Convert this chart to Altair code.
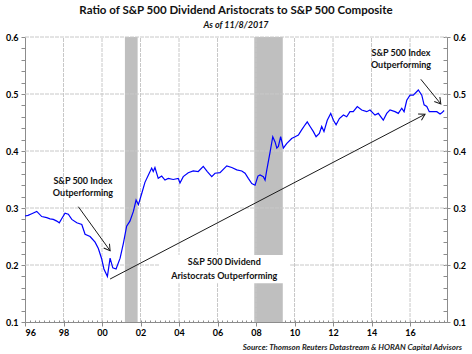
import altair as alt
import pandas as pd

# ---------------- data ----------------
years = [1996.00, 1996.16, 1996.35, 1996.61, 1996.87, 1997.13, 1997.30, 1997.47, 1997.65, 1997.78,
         1997.92, 1998.08, 1998.25, 1998.43, 1998.69, 1998.95, 1999.12, 1999.38, 1999.64, 1999.81,
         1999.98, 2000.10, 2000.28, 2000.42, 2000.56, 2000.73, 2000.94, 2001.11, 2001.28, 2001.45,
         2001.63, 2001.77, 2001.89, 2002.06, 2002.23, 2002.41, 2002.58, 2002.66, 2002.75, 2002.92,
         2003.10, 2003.27, 2003.44, 2003.70, 2003.96, 2004.05, 2004.22, 2004.48, 2004.74, 2005.00,
         2005.26, 2005.47, 2005.70, 2005.87, 2006.13, 2006.48, 2006.74, 2007.00, 2007.26, 2007.43,
         2007.60, 2007.78, 2007.95, 2008.10, 2008.21, 2008.38, 2008.47, 2008.56, 2008.73, 2008.87,
         2008.99, 2009.08, 2009.16, 2009.28, 2009.42, 2009.59, 2009.85, 2010.03, 2010.20, 2010.37,
         2010.55, 2010.66, 2010.81, 2010.98, 2011.12, 2011.29, 2011.41, 2011.53, 2011.70, 2011.88,
         2012.02, 2012.16, 2012.33, 2012.54, 2012.71, 2012.88, 2013.05, 2013.26, 2013.49, 2013.75,
         2013.92, 2014.18, 2014.35, 2014.61, 2014.79, 2014.96, 2015.22, 2015.39, 2015.57, 2015.69,
         2015.83, 2016.00, 2016.17, 2016.43, 2016.61, 2016.73, 2016.87, 2017.00, 2017.21, 2017.39,
         2017.56, 2017.65, 2017.77]

ratio = [0.286, 0.287, 0.290, 0.294, 0.285, 0.283, 0.281, 0.280, 0.277, 0.274,
         0.282, 0.291, 0.289, 0.280, 0.274, 0.271, 0.254, 0.250, 0.240, 0.229,
         0.211, 0.193, 0.180, 0.212, 0.195, 0.193, 0.212, 0.238, 0.268, 0.277,
         0.294, 0.314, 0.306, 0.325, 0.345, 0.358, 0.370, 0.364, 0.371, 0.352,
         0.356, 0.349, 0.352, 0.350, 0.352, 0.344, 0.355, 0.362, 0.365, 0.364,
         0.373, 0.364, 0.355, 0.361, 0.362, 0.374, 0.371, 0.367, 0.365, 0.361,
         0.352, 0.343, 0.340, 0.356, 0.358, 0.355, 0.349, 0.367, 0.398, 0.425,
         0.416, 0.405, 0.408, 0.425, 0.405, 0.413, 0.422, 0.425, 0.428, 0.437,
         0.446, 0.451, 0.443, 0.434, 0.425, 0.431, 0.443, 0.434, 0.454, 0.466,
         0.454, 0.446, 0.457, 0.463, 0.460, 0.469, 0.469, 0.478, 0.472, 0.469,
         0.472, 0.463, 0.466, 0.454, 0.466, 0.472, 0.469, 0.466, 0.475, 0.469,
         0.489, 0.498, 0.498, 0.507, 0.498, 0.481, 0.478, 0.469, 0.469, 0.469,
         0.465, 0.467, 0.471]

x_ticks = [1996, 1998, 2000, 2002, 2004, 2006, 2008, 2010, 2012, 2014, 2016]
x_grid = [1998, 2000, 2002, 2004, 2006, 2008, 2010, 2012, 2014, 2016]
x_minor = [1996 + q / 4 for q in range(0, 88)]
y_ticks = [0.1, 0.2, 0.3, 0.4, 0.5, 0.6]
y_grid = [0.2, 0.3, 0.4, 0.5, 0.6]
y_minor = [round(0.1 + i * 0.02, 2) for i in range(0, 26)]
x_range = [1996, 2017.92]
y_range = [0.1, 0.6]

rec_start = [2001.19, 2007.91]
rec_end = [2001.85, 2009.39]

# text box behind the lower annotation
box_x = [2003.0]
box_x2 = [2009.77]
box_y = [0.168]
box_y2 = [0.2175]

note_x = [1999.01, 1999.01, 2015.53, 2015.53, 2006.35, 2006.35]
note_y = [0.347, 0.326, 0.5725, 0.551, 0.2053, 0.1807]
note_text = ["S&P 500 Index", "Outperforming", "S&P 500 Index", "Outperforming",
             "S&P 500 Dividend", "Aristocrats Outperforming"]

arrow_x1 = [1998.77, 2000.42, 2016.56]
arrow_y1 = [0.3023, 0.1754, 0.5258]
arrow_x2 = [2000.42, 2016.78, 2017.60]
arrow_y2 = [0.2251, 0.4644, 0.4825]
arrow_angle = [144, 62, 141]

source_x = [2018.7]
source_y = [0.0549]
source_text = ["Source: Thomson Reuters Datastream & HORAN Capital Advisors"]

# ---------------- frames ----------------
line_df = pd.DataFrame({"year": years, "ratio": ratio})
rec_df = pd.DataFrame({"start": rec_start, "end": rec_end,
                       "lo": [y_range[0]] * len(rec_start), "hi": [y_range[1]] * len(rec_start)})
vgrid_df = pd.DataFrame({"x": x_grid, "lo": [y_range[0]] * len(x_grid),
                         "hi": [y_range[1]] * len(x_grid)})
hgrid_df = pd.DataFrame({"y": y_grid, "lo": [x_range[0]] * len(y_grid),
                         "hi": [x_range[1]] * len(y_grid)})
box_df = pd.DataFrame({"x": box_x, "x2": box_x2, "y": box_y, "y2": box_y2})
note_df = pd.DataFrame({"x": note_x, "y": note_y, "text": note_text})
arrow_df = pd.DataFrame({"x1": arrow_x1, "y1": arrow_y1, "x2": arrow_x2, "y2": arrow_y2,
                         "angle": arrow_angle})
source_df = pd.DataFrame({"x": source_x, "y": source_y, "text": source_text})

FONT = "Lato"
GRID = "#C8C8C8"
xs = alt.Scale(domain=x_range, nice=False, zero=False)
ys = alt.Scale(domain=y_range, nice=False, zero=False)

x_main_axis = alt.Axis(orient="bottom", values=x_ticks,
                       labelExpr="substring(toString(datum.value), 2, 4)",
                       grid=False, domain=True, domainColor="#8c8c8c", ticks=True, tickSize=4,
                       tickColor="#8c8c8c", labelPadding=2, labelFont=FONT, labelFontSize=9,
                       labelFontWeight="bold", labelColor="#000000", title=None)
x_minor_axis = alt.Axis(orient="top", offset=-285, values=x_minor, labels=False, domain=False,
                        grid=False, ticks=True, tickSize=2, tickColor="#8c8c8c", title=None)

y_left_axis = alt.Axis(orient="left", values=y_minor,
                       labelExpr="(round(datum.value*100) % 10 == 0) ? format(datum.value, '.1f') : ''",
                       grid=False, domain=True, domainColor="#8c8c8c", ticks=True, tickSize=4,
                       tickColor="#8c8c8c", labelPadding=3, labelFont=FONT, labelFontSize=9,
                       labelFontWeight="bold", labelColor="#000000", labelOverlap=False, title=None)
y_right_axis = alt.Axis(orient="right", values=y_ticks, format=".1f", grid=False, domain=True,
                        domainColor="#8c8c8c", ticks=True, tickSize=3, tickColor="#8c8c8c",
                        labelPadding=3, labelFont=FONT, labelFontSize=9, labelFontWeight="bold",
                        labelColor="#000000", title=None)
y_right_inner = alt.Axis(orient="left", offset=-422, values=y_minor, labels=False, domain=False,
                         grid=False, ticks=True, tickSize=4, tickColor="#8c8c8c", title=None)

recessions = alt.Chart(rec_df).mark_rect(color="#BFBFBF").encode(
    x=alt.X("start:Q", scale=xs, axis=x_main_axis),
    x2="end:Q",
    y=alt.Y("lo:Q", scale=ys, axis=y_left_axis),
    y2="hi:Q",
)

# dashed gridlines drawn as rules through the scales
vgrid = alt.Chart(vgrid_df).mark_rule(color=GRID, strokeDash=[4, 1], strokeWidth=1).encode(
    x=alt.X("x:Q", scale=xs, axis=None),
    y=alt.Y("lo:Q", scale=ys, axis=None),
    y2="hi:Q",
)
hgrid = alt.Chart(hgrid_df).mark_rule(color=GRID, strokeDash=[4, 1], strokeWidth=1).encode(
    y=alt.Y("y:Q", scale=ys, axis=None),
    x=alt.X("lo:Q", scale=xs, axis=None),
    x2="hi:Q",
)

textbox = alt.Chart(box_df).mark_rect(color="#FFFFFF").encode(
    x=alt.X("x:Q", scale=xs, axis=x_minor_axis),
    x2="x2:Q",
    y=alt.Y("y:Q", scale=ys, axis=y_right_inner),
    y2="y2:Q",
)

line = alt.Chart(line_df).mark_line(color="#0000FF", strokeWidth=1.2).encode(
    x=alt.X("year:Q", scale=xs, axis=None),
    y=alt.Y("ratio:Q", scale=ys, axis=y_right_axis),
)

arrows = alt.Chart(arrow_df).mark_rule(color="#1A1A1A", strokeWidth=1).encode(
    x=alt.X("x1:Q", scale=xs, axis=None),
    y=alt.Y("y1:Q", scale=ys, axis=None),
    x2="x2:Q",
    y2="y2:Q",
)

heads = alt.Chart(arrow_df).mark_point(
    shape="M -0.6 1 L 0 0 L 0.6 1", filled=False, size=144, strokeWidth=1,
    color="#1A1A1A", opacity=1,
).encode(
    x=alt.X("x2:Q", scale=xs, axis=None),
    y=alt.Y("y2:Q", scale=ys, axis=None),
    angle=alt.Angle("angle:Q", scale=None),
)

notes = alt.Chart(note_df).mark_text(
    font=FONT, fontSize=9, fontWeight="bold", color="#111111", align="center", baseline="middle"
).encode(
    x=alt.X("x:Q", scale=xs, axis=None),
    y=alt.Y("y:Q", scale=ys, axis=None),
    text="text:N",
)

source = alt.Chart(source_df).mark_text(
    font=FONT, fontSize=8, fontWeight="bold", fontStyle="italic", color="#222222",
    align="right", baseline="middle", clip=False,
).encode(
    x=alt.X("x:Q", scale=xs, axis=None),
    y=alt.Y("y:Q", scale=ys, axis=None),
    text="text:N",
)

chart = alt.layer(
    recessions, vgrid, hgrid, textbox, line, arrows, heads, notes, source
).resolve_axis(x="independent", y="independent").properties(
    width=422,
    height=285,
    autosize=alt.AutoSizeParams(type="none"),
    padding={"left": 25, "top": 37, "right": 25, "bottom": 32},
    background="#FFFFFF",
    title=alt.TitleParams(
        text="Ratio of S&P 500 Dividend Aristocrats to S&P 500 Composite",
        subtitle="As of 11/8/2017",
        anchor="middle",
        frame="group",
        offset=3,
        font=FONT,
        fontSize=11.5,
        fontWeight="bold",
        color="#111111",
        subtitleFont=FONT,
        subtitleFontSize=9,
        subtitleFontWeight="bold",
        subtitleFontStyle="italic",
        subtitleColor="#111111",
        subtitlePadding=5,
    ),
).configure_view(stroke=None)

chart.save("out.html", embed_options={"renderer": "svg", "actions": False})
